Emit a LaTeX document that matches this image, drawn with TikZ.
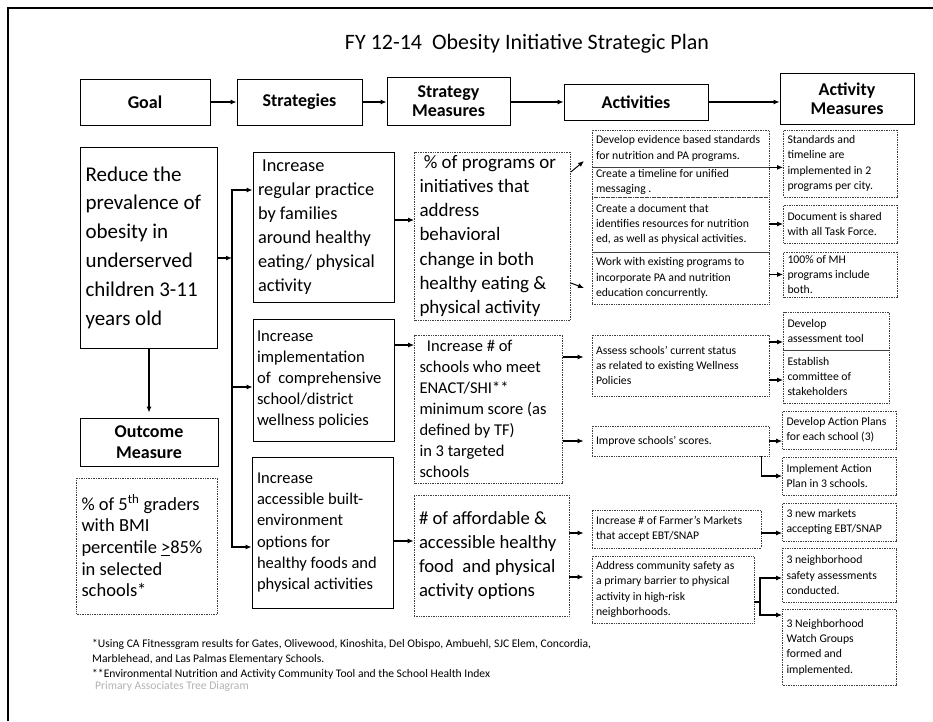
\documentclass[tikz,border=0pt]{standalone}
\usepackage{fontspec}
\setmainfont{Carlito}
\usetikzlibrary{arrows.meta}

\begin{document}
\begin{tikzpicture}[x=1pt, y=-1pt,
    hdr/.style={draw, line width=0.8pt, align=center, inner sep=1pt,
        font=\bfseries\fontsize{18}{19}\selectfont},
    solidbox/.style={draw, line width=0.8pt, align=flush left, inner xsep=5pt, inner ysep=1pt},
    dotbox/.style={draw=black!75, densely dotted, line width=0.7pt, align=flush left,
        inner xsep=5pt, inner ysep=1pt},
    actbox/.style={dotbox, inner xsep=4pt, font=\fontsize{11.7}{15.3}\selectfont},
    arr/.style={-{Latex[length=6pt,width=5pt]}, line width=1.3pt},
    note/.style={anchor=west, inner sep=0pt, font=\fontsize{11.6}{13}\selectfont}]

    \useasboundingbox (0,0) rectangle (933,721);
    \draw[line width=2.5pt] (8,721) -- (8,8) -- (933,8);

    \node[font=\fontsize{22}{24}\selectfont] (title) at (527,44)
        {FY 12-14\ \ Obesity Initiative Strategic Plan};

    % header row
    \node[hdr, minimum width=130pt, minimum height=46pt] (goal) at (145,102) {Goal};
    \node[hdr, minimum width=125pt, minimum height=46pt] (strat) at (299.5,102) {Strategies};
    \node[hdr, minimum width=123pt, minimum height=48pt] (smeas) at (448.5,101) {Strategy\\Measures};
    \node[hdr, minimum width=144pt, minimum height=36pt] (activ) at (636,102) {Activities};
    \node[hdr, minimum width=134pt, minimum height=51pt] (ameas) at (847,99) {Activity\\Measures};

    \draw[arr] (goal.east) -- (goal.east -| strat.west);
    \draw[arr] (strat.east) -- (strat.east -| smeas.west);
    \draw[arr] (smeas.east |- goal.east) -- (goal.east -| activ.west);
    \draw[arr] (activ.east |- goal.east) -- (goal.east -| ameas.west);

    % goal column
    \node[solidbox, text width=127pt, minimum height=201pt, font=\fontsize{21}{28.8}\selectfont]
        (reduce) at (149,247.5)
        {Reduce the\\prevalence of\\obesity in\\underserved\\children 3-11\\years old};
    \node[hdr, minimum width=138pt, minimum height=48pt, font=\bfseries\fontsize{18}{21}\selectfont]
        (outhdr) at (149,442) {Outcome\\Measure};
    \node[dotbox, text width=131pt, minimum height=136pt, font=\fontsize{18.5}{21.7}\selectfont]
        (outbox) at (147,546)
        {\% of 5\textsuperscript{th} graders\\with BMI\\percentile \underline{>}85\%\\in selected\\schools*};
    \draw[arr, shorten >=5pt] (reduce) -- (outhdr);

    % strategies
    \node[solidbox, text width=131pt, minimum height=150pt, font=\fontsize{18.3}{24}\selectfont]
        (s1) at (323.5,227)
        {\ Increase\\regular practice\\by families\\around healthy\\eating/ physical\\activity};
    \node[solidbox, inner xsep=4pt, text width=133pt, minimum height=122pt, font=\fontsize{16.6}{21}\selectfont]
        (s2) at (323.5,380)
        {Increase\\implementation\\of\ \ comprehensive\\school/district\\wellness policies};
    \node[solidbox, text width=131pt, minimum height=151pt, font=\fontsize{16.5}{21.3}\selectfont]
        (s3) at (322.5,532.5)
        {Increase\\accessible built-\\environment\\options for\\healthy foods and\\physical activities};

    \coordinate (jn) at (232,258);
    \coordinate (t1) at (232,190);
    \coordinate (t2) at (232,387);
    \coordinate (t3) at (232,547);
    \draw[arr] (reduce.east |- jn) -- (jn);
    \draw[arr] (t2) |- (s1.west |- t1);
    \draw[arr] (t2) -- (s2.west |- t2);
    \draw[arr] (t2) |- (s3.west |- t3);

    % strategy measures
    \node[dotbox, text width=146pt, minimum height=168pt, font=\fontsize{19}{24.3}\selectfont]
        (m1) at (492.5,236)
        {\ \% of programs or\\initiatives that\\address\\behavioral\\change in both\\healthy eating \&\\physical activity};
    \node[dotbox, text width=138pt, minimum height=148pt, font=\fontsize{16.5}{21}\selectfont]
        (m2) at (488.5,409)
        {\ \ Increase \# of\\schools who meet\\ENACT/SHI**\\minimum score (as\\defined by TF)\\in 3 targeted\\schools};
    \node[dotbox, text width=145pt, minimum height=121pt, font=\fontsize{18.7}{24.3}\selectfont]
        (m3) at (491.5,555.5)
        {\# of affordable \&\\accessible healthy\\food\ \ and physical\\activity options};

    \draw[arr] ([yshift=7pt]s1.east) -- ([yshift=7pt]s1.east -| m1.west);
    \draw[arr] ([yshift=35pt]s2.east) -- ([yshift=35pt]s2.east -| m2.west);
    \draw[arr] ([yshift=-8.5pt]s3.east) -- ([yshift=-8.5pt]s3.east -| m3.west);

    % activities
    \node[actbox, text width=169pt, minimum height=37pt] (a1) at (680.5,148.5)
        {Develop evidence based standards\\for nutrition and PA programs.};
    \node[actbox, text width=169pt, minimum height=30pt] (a2) at (680.5,182)
        {Create a timeline for unified\\messaging .};
    \node[actbox, text width=169pt, minimum height=55pt] (a3) at (680.5,224.5)
        {Create a document that\\identifies resources for nutrition\\ed, as well as physical activities.};
    \node[actbox, text width=169pt, minimum height=52pt] (a4) at (680.5,278)
        {Work with existing programs to\\incorporate PA and nutrition\\education concurrently.};
    \node[actbox, text width=169pt, minimum height=61pt] (a5) at (680.5,365.5)
        {Assess schools' current status\\as related to existing Wellness\\Policies};
    \node[actbox, text width=169pt, minimum height=30pt] (a6) at (680.5,441)
        {Improve schools' scores.};
    \node[actbox, text width=161pt, minimum height=38pt] (a7) at (676.5,529)
        {Increase \# of Farmer's Markets\\that accept EBT/SNAP};
    \node[actbox, text width=154pt, minimum height=67pt] (a8) at (673,589.5)
        {Address community safety as\\a primary barrier to physical\\activity in high-risk\\neighborhoods.};

    \coordinate (d1) at (584,161);
    \coordinate (d2) at (584,288);
    \draw[arr, line width=1pt] ([yshift=64pt]m1.east) -- (d1);
    \draw[arr, line width=1pt] ([yshift=-47pt]m1.east) -- (d2);

    \coordinate (y5) at ([yshift=8.5pt]a5.west);
    \coordinate (y7) at ([yshift=-4pt]a7.west);
    \coordinate (y8) at ([yshift=12.5pt]a8.west);
    \draw[arr, shorten >=8pt] (m2.east |- y5) -- (y5);
    \draw[arr, shorten >=8pt] (m2.east |- a6.west) -- (a6.west);
    \draw[arr, shorten >=8pt] (m3.east |- y7) -- (y7);
    \draw[arr, shorten >=8pt] (m3.east |- y8) -- (y8);

    % activity measures
    \node[actbox, text width=106pt, minimum height=67pt] (am1) at (840.5,163.5)
        {Standards and\\timeline are\\implemented in 2\\programs per city.};
    \node[actbox, text width=106pt, minimum height=38pt] (am2) at (840.5,224)
        {Document is shared\\with all Task Force.};
    \node[actbox, text width=106pt, minimum height=45pt] (am3) at (840.5,274.5)
        {100\% of MH\\programs include\\both.};
    \node[actbox, text width=98pt, minimum height=38pt] (am4) at (836.5,331)
        {Develop\\assessment tool};
    \node[actbox, text width=98pt, minimum height=53pt] (am5) at (836.5,376.5)
        {Establish\\committee of\\stakeholders};
    \node[actbox, text width=106pt, minimum height=38pt] (am6) at (839.5,430)
        {Develop Action Plans\\for each school (3)};
    \node[actbox, text width=106pt, minimum height=38pt] (am7) at (839.5,476)
        {Implement Action\\Plan in 3 schools.};
    \node[actbox, text width=106pt, minimum height=38pt] (am8) at (839.5,522)
        {3 new markets\\accepting EBT/SNAP};
    \node[actbox, text width=106pt, minimum height=54pt] (am9) at (839.5,575)
        {3 neighborhood\\safety assessments\\conducted.};
    \node[actbox, text width=106pt, minimum height=76pt] (am10) at (839.5,647)
        {3 Neighborhood\\Watch Groups\\formed and\\implemented.};

    \draw[arr] (a1.south east) -- (a1.south east -| am1.west);
    \draw[arr] (a3.east |- am2.west) -- (am2.west);
    \draw[arr] (a4.east |- am3.west) -- (am3.west);
    \coordinate (y4) at ([yshift=-11pt]am4.west);
    \coordinate (y5b) at ([yshift=-3.5pt]am5.west);
    \coordinate (y6) at ([yshift=-11pt]am6.west);
    \coordinate (y8b) at ([yshift=-11pt]am8.west);
    \draw[arr] (a5.east |- y4) -- (y4);
    \draw[arr] (a5.east |- y5b) -- (y5b);
    \draw[arr] (a6.east |- y6) -- (y6);
    \coordinate (el) at ([xshift=-8pt]a6.south east);
    \draw[arr] (el) |- (am7.west);
    \draw[arr] (a7.east |- y8b) -- (y8b);
    \coordinate (fk) at (760,602);
    \coordinate (y9) at ([yshift=-3pt]am9.west);
    \coordinate (y10) at ([yshift=32pt]am10.west);
    \draw[line width=1.3pt] (a8.east |- fk) -- (fk);
    \draw[arr] (fk) |- (y9);
    \draw[arr] (fk) |- (y10);

    % footnotes
    \node[note] (fn1) at (92,644)
        {*Using CA Fitnessgram results for Gates, Olivewood, Kinoshita, Del Obispo, Ambuehl, SJC Elem, Concordia,};
    \node[note] (fn2) at (92,659) {Marblehead, and Las Palmas Elementary Schools.};
    \node[note] (fn3) at (92,674)
        {**Environmental Nutrition and Activity Community Tool and the School Health Index};
    \node[note, text=black!30] (fn4) at (95,686) {Primary Associates Tree Diagram};
\end{tikzpicture}
\end{document}
